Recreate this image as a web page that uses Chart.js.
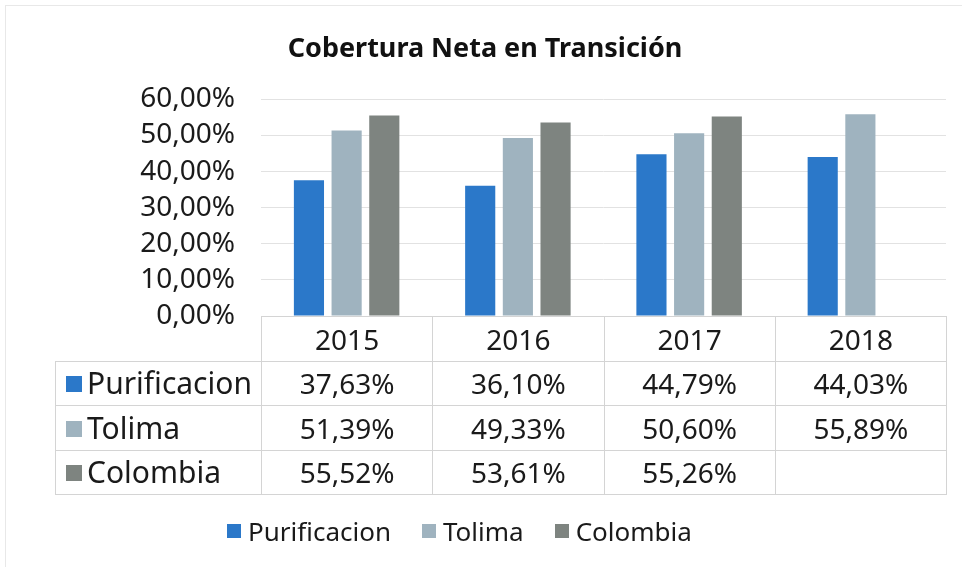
<!DOCTYPE html>
<html>
<head>
<meta charset="utf-8">
<script src="https://cdn.jsdelivr.net/npm/chart.js@4"></script>
<style>
  html, body { margin: 0; padding: 0; background: #fff; overflow: hidden; }
  #wrap { position: relative; width: 962px; height: 567px; }
  #frame { position: absolute; left: 5px; top: 5px; width: 1000px; height: 600px; border: 1px solid #e8e8e8; }
  canvas { position: absolute; left: 0; top: 0; }
  #data-table {
    position: absolute; border-collapse: collapse; table-layout: fixed;
    font-family: 'Noto Sans', sans-serif; font-size: 28px; color: #1a1a1a;
  }
  #data-table td { border: 1px solid #d4d4d4; text-align: center; padding: 0; line-height: 1; }
  #data-table td.blank { border: none; }
  #data-table td.name { text-align: left; padding-left: 10px; white-space: nowrap; font-size: 30px; }
  .swatch { display: inline-block; width: 16px; height: 16px; margin-right: 5px; vertical-align: middle; position: relative; top: -2px; }
  #legend {
    position: absolute; left: 227px; top: 514px; height: 34px; display: flex; align-items: center;
    font-family: 'Noto Sans', sans-serif; font-size: 26px; color: #1a1a1a; white-space: nowrap;
  }
  #legend .item { display: flex; align-items: center; margin-right: 31px; }
  #legend .box { width: 14px; height: 14px; margin-right: 7px; }
</style>
</head>
<body>
<div id="wrap">
  <div id="frame"></div>
  <canvas id="chart" width="962" height="567"></canvas>
  <table id="data-table"></table>
  <div id="legend"></div>
</div>
<script>
const categories = ['2015', '2016', '2017', '2018'];
const seriesNames = ['Purificacion', 'Tolima', 'Colombia'];
const purificacion = [37.63, 36.10, 44.79, 44.03];
const tolima = [51.39, 49.33, 50.60, 55.89];
const colombia = [55.52, 53.61, 55.26, null];
const seriesColors = ['#2b78c9', '#9fb3bf', '#7e8480'];
const yTicks = [0, 10, 20, 30, 40, 50, 60];

const seriesValues = [purificacion, tolima, colombia];

function pct(v) {
    return v.toFixed(2).replace('.', ',') + '%';
}

Chart.defaults.font.family = "'Noto Sans', sans-serif";
Chart.defaults.color = '#1a1a1a';

// builds the data table under the plot (lined up with the category columns) and the legend
const tablePlugin = {
    id: 'dataTable',
    afterRender(chart) {
        if (chart._tableDone) return;
        chart._tableDone = true;
        const area = chart.chartArea;
        const colW = (area.right - area.left) / categories.length;
        const tableLeft = 55;
        const table = document.getElementById('data-table');
        table.style.left = tableLeft + 'px';
        table.style.top = area.bottom + 'px';
        table.style.width = (area.right - tableLeft) + 'px';

        let html = '<colgroup><col style="width:' + (area.left - tableLeft) + 'px">';
        categories.forEach(() => { html += '<col style="width:' + colW + 'px">'; });
        html += '</colgroup>';
        html += '<tr style="height:44.5px"><td class="blank"></td>';
        categories.forEach(c => { html += '<td>' + c + '</td>'; });
        html += '</tr>';
        seriesNames.forEach((name, i) => {
            html += '<tr style="height:44.5px"><td class="name"><span class="swatch" style="background:' +
                seriesColors[i] + '"></span>' + name + '</td>';
            seriesValues[i].forEach(v => {
                html += '<td>' + (v === null ? '' : pct(v)) + '</td>';
            });
            html += '</tr>';
        });
        table.innerHTML = html;

        const legend = document.getElementById('legend');
        legend.innerHTML = chart.data.datasets.map(ds =>
            '<span class="item"><span class="box" style="background:' + ds.backgroundColor +
            '"></span>' + ds.label + '</span>').join('');
    }
};

new Chart(document.getElementById('chart'), {
    type: 'bar',
    data: {
        labels: categories,
        datasets: seriesNames.map((name, i) => ({
            label: name,
            data: seriesValues[i],
            backgroundColor: seriesColors[i],
            borderWidth: 0,
            categoryPercentage: 0.66,
            barPercentage: 0.8
        }))
    },
    options: {
        responsive: false,
        animation: false,
        layout: { padding: { top: 0, right: 16, bottom: 0, left: 24 } },
        plugins: {
            title: {
                display: true,
                text: 'Cobertura Neta en Transición',
                font: { size: 27, weight: 'bold' },
                color: '#111',
                padding: { top: 33, bottom: 34 }
            },
            legend: { display: false },
            tooltip: { enabled: false }
        },
        scales: {
            x: {
                ticks: { display: false },
                grid: { display: false },
                border: { display: false },
                afterFit(scale) { scale.height = 251; }
            },
            y: {
                min: yTicks[0],
                max: yTicks[yTicks.length - 1],
                afterBuildTicks(scale) { scale.ticks = yTicks.map(v => ({ value: v })); },
                ticks: {
                    font: { size: 28 },
                    padding: 26,
                    autoSkip: false,
                    callback: v => pct(v)
                },
                grid: { color: '#e2e2e2', drawTicks: false },
                border: { display: false },
                afterFit(scale) { scale.width = 237; }
            }
        }
    },
    plugins: [tablePlugin]
});
</script>
</body>
</html>
